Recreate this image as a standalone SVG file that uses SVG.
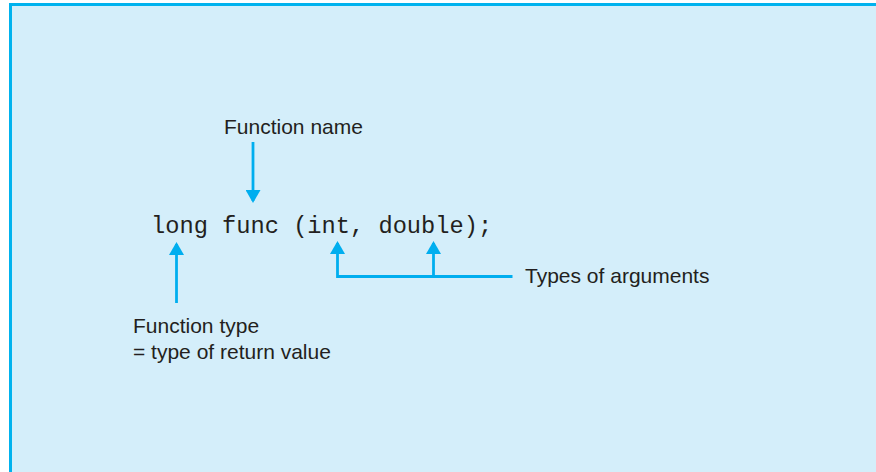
<svg xmlns="http://www.w3.org/2000/svg" width="876" height="472" viewBox="0 0 876 472">
<defs>
<style>
.lbl{font-family:"Liberation Sans",Arial,sans-serif;font-size:21px;fill:#231f20}
.code{font-family:"Liberation Mono","Courier New",monospace;font-size:23.7px;fill:#231f20}
.cn{stroke:#00aeef;stroke-width:2.8;fill:none}
</style>
<marker id="ah" markerWidth="13" markerHeight="15" refX="11" refY="7.5" orient="auto" markerUnits="userSpaceOnUse" viewBox="0 0 13 15">
<path d="M0,0 L13,7.5 L0,15 Z" fill="#00aeef"/>
</marker>
</defs>
<rect x="0" y="0" width="876" height="472" fill="#ffffff"/>
<rect x="9" y="3" width="867" height="469" fill="#d4eefa"/>
<rect x="9" y="3" width="867" height="3" fill="#00b2ee"/>
<rect x="9" y="3" width="3" height="469" fill="#00b2ee"/>
<g id="code"><text class="code" x="151" y="233">long func (int, double);</text></g>
<g id="function-name"><text class="lbl" x="224" y="134">Function name</text></g>
<g id="types-of-arguments"><text class="lbl" x="525" y="283">Types of arguments</text></g>
<g id="function-type"><text class="lbl" x="133" y="333">Function type</text><text class="lbl" x="133" y="359">= type of return value</text></g>
<g id="connectors">
<path class="cn" d="M253,142 V201" marker-end="url(#ah)"/>
<path class="cn" d="M176.5,303 V244" marker-end="url(#ah)"/>
<path class="cn" d="M512.5,276.5 H337.5 V243" marker-end="url(#ah)"/>
<path class="cn" d="M433.5,276.5 V243" marker-end="url(#ah)"/>
</g>
</svg>
